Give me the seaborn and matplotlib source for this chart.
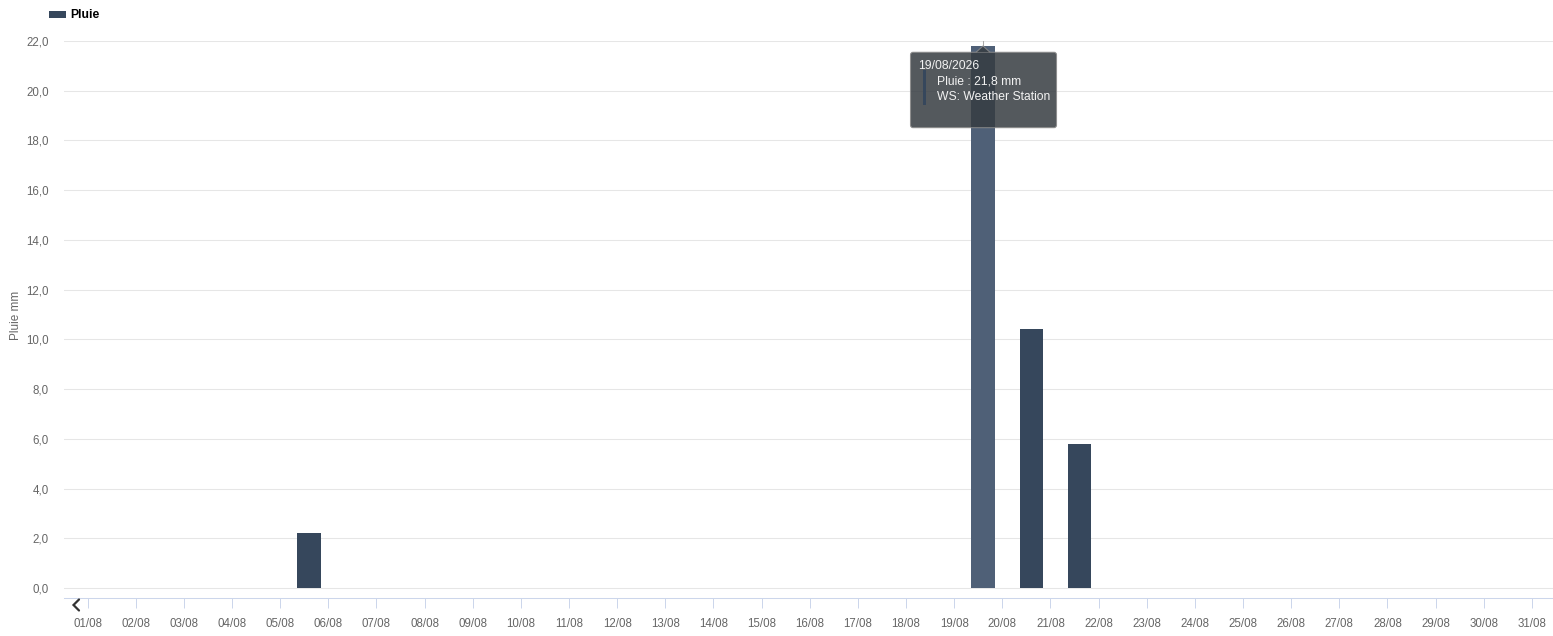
import matplotlib
matplotlib.use('Agg')
import matplotlib.pyplot as plt
import matplotlib.transforms as mtransforms
from matplotlib.patches import Rectangle, FancyBboxPatch, Polygon
from matplotlib.lines import Line2D
import pandas as pd
import seaborn as sns

# Données : pluie journalière (mm), août
days = [f'{d:02d}/08' for d in range(1, 32)]
rain = [0, 0, 0, 0, 2.2, 0, 0, 0, 0, 0,
        0, 0, 0, 0, 0, 0, 0, 0, 21.8, 10.4,
        5.8, 0, 0, 0, 0, 0, 0, 0, 0, 0, 0]
y_ticks = [0, 2, 4, 6, 8, 10, 12, 14, 16, 18, 20, 22]
year = '2026'
series_name = 'Pluie'
station = 'WS: Weather Station'

BAR_COLOR = '#36475c'
HOVER_COLOR = '#4f6077'
BAR_OFFSET = 0.6   # barres décalées par rapport au tick du jour
W, H = 1553, 636

plt.rcParams['font.family'] = ['Liberation Sans', 'DejaVu Sans']

df = pd.DataFrame({'day': days, 'pos': [i + BAR_OFFSET for i in range(len(days))], 'rain': rain})


def px(x, y):
    return x / W, 1 - y / H


fig = plt.figure(figsize=(W / 100, H / 100), dpi=100)
ax = fig.add_axes([64 / W, 38 / H, (W - 64) / W, 557 / H])

sns.barplot(data=df, x='pos', y='rain', native_scale=True, width=0.48,
            color=BAR_COLOR, saturation=1, errorbar=None, linewidth=0, ax=ax)

peak = max(range(len(rain)), key=lambda i: rain[i])
bars = [p for p in ax.patches]
bars[peak].set_facecolor(HOVER_COLOR)

ax.set_xlim(-0.49, len(days) - 1 + 0.44)
ax.set_ylim(-0.4, 22)

ax.set_xticks(range(len(days)))
ax.set_xticklabels(days)
ax.set_yticks(y_ticks)
ax.set_yticklabels([f'{v:.1f}'.replace('.', ',') for v in y_ticks])
ax.tick_params(axis='x', length=7.2, width=0.72, color='#ccd6eb', pad=7.5,
               labelsize=8.3, labelcolor='#666666')
ax.tick_params(axis='y', length=0, pad=11, labelsize=8.3, labelcolor='#666666')

ax.set_xlabel('')
ax.set_ylabel('Pluie mm', fontsize=8.5, color='#666666')
ax.yaxis.set_label_coords(-(64 - 22) / (W - 64), (598 - 315) / 557)

ax.yaxis.grid(True, color='#e6e6e6', linewidth=0.75)
ax.set_axisbelow(True)
for s in ['top', 'right', 'left']:
    ax.spines[s].set_visible(False)
ax.spines['bottom'].set_color('#ccd6eb')
ax.spines['bottom'].set_linewidth(0.75)

# légende
fig.add_artist(Rectangle(px(49, 18), 17 / W, 7 / H, transform=fig.transFigure,
                         facecolor=BAR_COLOR, edgecolor='none'))
fig.text(*px(70, 15), series_name, fontsize=8.7, fontweight='bold',
         color='black', va='center', ha='left')

# flèche de navigation
xs, ys = zip(*[px(79, 599.5), px(73.5, 605), px(79, 610.5)])
fig.add_artist(Line2D(xs, ys, transform=fig.transFigure, color='#333333',
                      linewidth=1.6, solid_capstyle='round', solid_joinstyle='miter'))

# infobulle sur la barre survolée
anchor = ax.transData.transform((df['pos'][peak], rain[peak]))
tip = mtransforms.Affine2D().translate(*anchor)
box_fc = '#363c41'
ax.add_artist(Line2D([0, 0], [0, 5], transform=tip, color='#aaaaaa',
                     linewidth=0.75, clip_on=False, zorder=5))
ax.add_artist(FancyBboxPatch((-72.5, -81.7), 146, 75.4,
                             boxstyle='round,pad=0,rounding_size=2.5',
                             transform=tip, facecolor=box_fc, edgecolor='#8a8a8a',
                             linewidth=0.8, alpha=0.85, clip_on=False, zorder=6))
ax.add_artist(Polygon([(-7, -6.3), (0, 0), (7, -6.3)], closed=False, transform=tip,
                      facecolor=box_fc, edgecolor='#8a8a8a', linewidth=0.8,
                      alpha=0.85, clip_on=False, zorder=6))
ax.add_artist(Rectangle((-60.5, -59), 3.5, 35, transform=tip, facecolor=BAR_COLOR,
                        edgecolor='none', clip_on=False, zorder=7))
txt = dict(transform=tip, fontsize=8.7, color='#f2f2f2', ha='left', va='center',
           clip_on=False, zorder=8)
ax.text(-64.5, -19.7, f'{days[peak]}/{year}', **txt)
ax.text(-45.8, -35.7, f'{series_name} : {rain[peak]:.1f} mm'.replace('.', ','), **txt)
ax.text(-45.8, -50.7, station, **txt)

fig.savefig('out.png', dpi=100)
